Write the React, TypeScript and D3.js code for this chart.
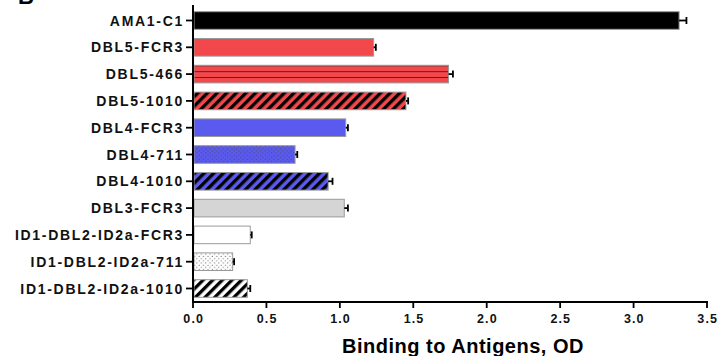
import * as d3 from "d3";

// antigen categories, top to bottom
const antigens = [
  "AMA1-C1",
  "DBL5-FCR3",
  "DBL5-466",
  "DBL5-1010",
  "DBL4-FCR3",
  "DBL4-711",
  "DBL4-1010",
  "DBL3-FCR3",
  "ID1-DBL2-ID2a-FCR3",
  "ID1-DBL2-ID2a-711",
  "ID1-DBL2-ID2a-1010",
];

// mean OD and SEM
const odMean = [3.31, 1.23, 1.74, 1.45, 1.04, 0.695, 0.92, 1.03, 0.39, 0.27, 0.37];
const odErr = [0.05, 0.015, 0.03, 0.015, 0.015, 0.015, 0.03, 0.025, 0.01, 0.01, 0.02];

// fill style per bar
const fills = [
  "black",
  "red",
  "red-lines",
  "red-diag",
  "blue",
  "blue-dots",
  "blue-diag",
  "gray",
  "white",
  "white-dots",
  "white-diag",
];

const xTicks = [0, 0.5, 1, 1.5, 2, 2.5, 3, 3.5];

const RED = "#f2474b";
const BLUE = "#5a5aef";
const GRAY = "#d5d5d5";

const font = "'Liberation Sans', Arial, Helvetica, sans-serif";

const fillFor = (f: string) => {
  switch (f) {
    case "black":
      return "#000";
    case "red":
      return RED;
    case "blue":
      return BLUE;
    case "gray":
      return GRAY;
    case "white":
      return "#fff";
    default:
      return `url(#${f})`;
  }
};

const Diag = ({ id, bg }: { id: string; bg: string }) => (
  <pattern
    id={id}
    patternUnits="userSpaceOnUse"
    width={6.8}
    height={6.8}
    patternTransform="rotate(45)"
  >
    <rect width={6.8} height={6.8} fill={bg} />
    <rect width={3.3} height={6.8} fill="#000" />
  </pattern>
);

const Dots = ({ id, bg }: { id: string; bg: string }) => (
  <pattern id={id} patternUnits="userSpaceOnUse" width={4.4} height={4.4}>
    <rect width={4.4} height={4.4} fill={bg} />
    <circle cx={1.1} cy={1.1} r={0.55} fill="#444" />
    <circle cx={3.3} cy={3.3} r={0.55} fill="#444" />
  </pattern>
);

export default function App() {
  const width = 719;
  const height = 356;
  const axisY = 302;

  const x = d3.scaleLinear().domain([0, 3.5]).range([193, 707]);
  const y = d3
    .scaleBand<string>()
    .domain(antigens)
    .range([5, 304])
    .paddingInner(0.343)
    .paddingOuter(0.25);
  const bw = y.bandwidth();

  return (
    <svg
      width={width}
      height={height}
      style={{ position: "absolute", left: 0, top: 0, background: "#fff" }}
    >
      <defs>
        <pattern
          id="red-lines"
          patternUnits="objectBoundingBox"
          width={1}
          height={1 / 3}
        >
          <rect width={600} height={bw / 3} fill={RED} />
          <line x1={0} x2={600} y1={0} y2={0} stroke="#333" strokeWidth={2} />
        </pattern>
        <Diag id="red-diag" bg={RED} />
        <Diag id="blue-diag" bg={BLUE} />
        <Diag id="white-diag" bg="#fff" />
        <Dots id="blue-dots" bg={BLUE} />
        <Dots id="white-dots" bg="#fff" />
      </defs>

      {/* panel letter, cut at the top edge as in the source figure */}
      <text
        x={18}
        y={4}
        fontFamily={font}
        fontWeight="bold"
        fontSize={22}
        fill="#000"
      >
        B
      </text>

      {/* bars */}
      {antigens.map((a, i) => {
        const y0 = y(a)!;
        const x0 = x(0) + 1;
        const xe = x(odMean[i]);
        const xErr = x(odMean[i] + odErr[i]);
        const cy = y0 + bw / 2;
        return (
          <g key={a}>
            <rect
              x={x0}
              y={y0}
              width={xe - x0}
              height={bw}
              fill={fillFor(fills[i])}
              stroke="#9a9a9a"
              strokeWidth={1}
            />
            <line x1={xe} x2={xErr} y1={cy} y2={cy} stroke="#000" strokeWidth={1.8} />
            <line
              x1={xErr}
              x2={xErr}
              y1={cy - 3.5}
              y2={cy + 3.5}
              stroke="#000"
              strokeWidth={1.8}
            />
          </g>
        );
      })}

      {/* y axis */}
      <line x1={x(0)} x2={x(0)} y1={5} y2={axisY} stroke="#000" strokeWidth={2} />
      {antigens.map((a) => {
        const cy = y(a)! + bw / 2;
        return (
          <g key={a}>
            <line x1={x(0) - 7} x2={x(0)} y1={cy} y2={cy} stroke="#000" strokeWidth={1.8} />
            <text
              x={x(0) - 9}
              y={cy}
              dy="0.36em"
              textAnchor="end"
              fontFamily={font}
              fontWeight="bold"
              fontSize={14}
              letterSpacing={1.7}
              fill="#111"
            >
              {a}
            </text>
          </g>
        );
      })}

      {/* x axis */}
      <line x1={x(0) - 1} x2={x(3.5) + 1} y1={axisY} y2={axisY} stroke="#000" strokeWidth={2} />
      {xTicks.map((t) => (
        <g key={t}>
          <line x1={x(t)} x2={x(t)} y1={axisY} y2={axisY + 6} stroke="#000" strokeWidth={1.8} />
          <text
            x={x(t) + 0.7}
            y={323}
            textAnchor="middle"
            fontFamily={font}
            fontWeight="bold"
            fontSize={12.5}
            letterSpacing={1.1}
            fill="#111"
          >
            {d3.format(".1f")(t)}
          </text>
        </g>
      ))}
      <text
        x={463}
        y={353}
        textAnchor="middle"
        fontFamily={font}
        fontWeight="bold"
        fontSize={20}
        letterSpacing={0.5}
        fill="#000"
      >
        Binding to Antigens, OD
      </text>
    </svg>
  );
}
